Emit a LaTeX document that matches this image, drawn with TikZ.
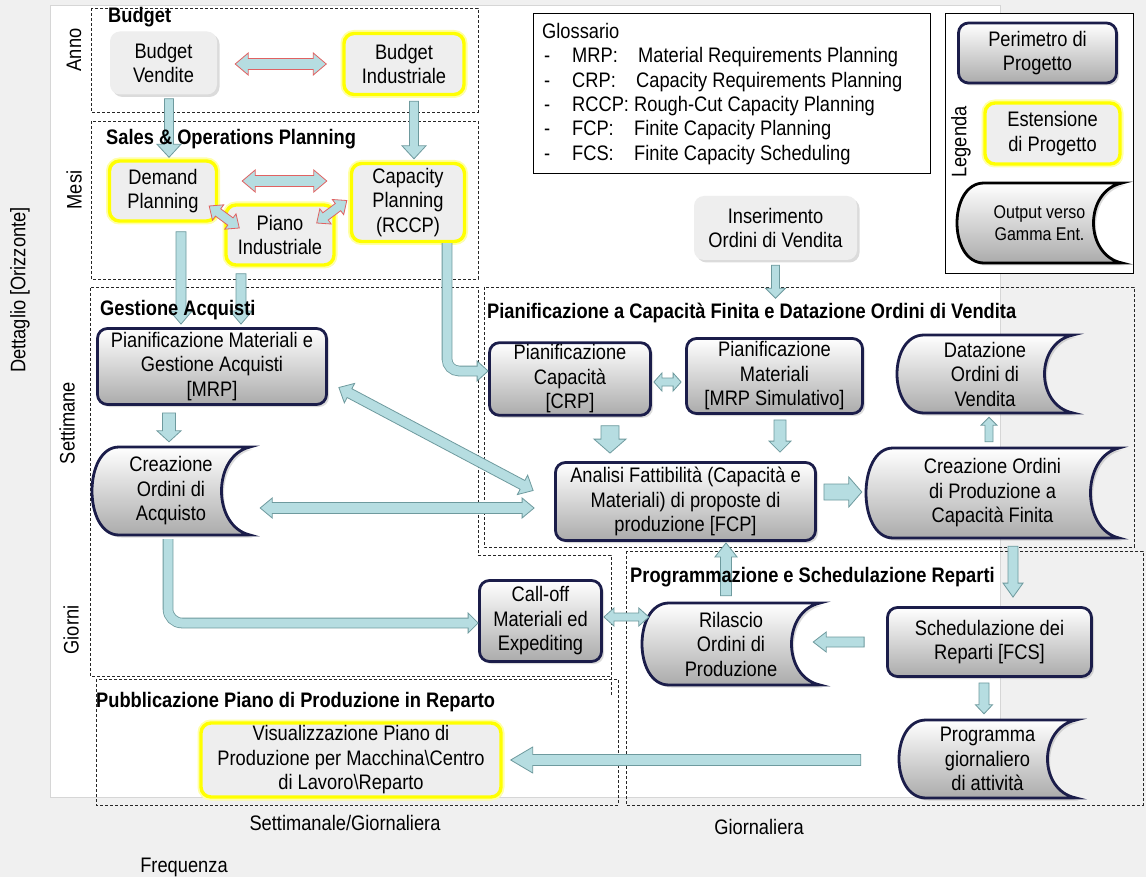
\documentclass[tikz,border=0pt]{standalone}
\usepackage{fontspec}
\setmainfont{Liberation Sans}[FakeStretch=0.87]
\usetikzlibrary{calc,shadows}

\definecolor{bgc}{HTML}{F0F0F0}
\definecolor{framec}{HTML}{D6D6D6}
\definecolor{navy}{HTML}{1B1D4A}
\definecolor{yel}{HTML}{FFFF00}
\definecolor{boxg}{HTML}{EEEEEE}
\definecolor{shadeb}{HTML}{ABABAB}
\definecolor{arrf}{HTML}{B6DDE1}
\definecolor{arro}{HTML}{6E9A9E}
\definecolor{arrr}{HTML}{E06262}

\newcommand\nfont{\fontsize{21}{24.5}\selectfont}
\newcommand\tfont{\fontsize{21}{22}\selectfont\bfseries}
\newcommand\lfont{\fontsize{18.4}{22}\selectfont}

\tikzset{
  boxbase/.style={rounded corners=10pt, align=center, inner sep=2pt},
  sh/.style={drop shadow={opacity=0.28, shadow xshift=2.5pt, shadow yshift=-2.5pt}},
  navybox/.style={boxbase, sh, draw=navy, line width=2.8pt, top color=white, bottom color=shadeb},
  yelbox/.style={boxbase, sh, preaction={draw=yel!35, line width=7pt}, draw=yel, line width=3.4pt, fill=boxg},
  plainbox/.style={boxbase, sh, fill=boxg},
  navyout/.style={sh, draw=navy, line width=2.8pt, top color=white, bottom color=shadeb, line join=miter},
  legout/.style={navyout, draw=black},
  zone/.style={draw=black!85, line width=0.7pt, dash pattern=on 3pt off 2pt},
  zonetitle/.style={font=\tfont, anchor=west, inner sep=0pt},
  plainlabel/.style={inner sep=0pt},
  gloss/.style={anchor=base west, inner sep=0pt},
  blk/.style={fill=arrf, draw=arro, line width=0.8pt, line join=miter},
  blkred/.style={fill=arrf, draw=arrr, line width=0.8pt, line join=miter},
}

% block arrow: [style]{half shaft}{half head}{head length}{tail}{tip}
\newcommand\blockarrow[6][blk]{%
  \path #5 coordinate (bA) #6 coordinate (bB);
  \pgfpointdiff{\pgfpointanchor{bA}{center}}{\pgfpointanchor{bB}{center}}%
  \pgfgetlastxy{\baDx}{\baDy}%
  \pgfmathsetmacro\baLen{veclen(\baDx,\baDy)}%
  \pgfmathsetmacro\baAng{atan2(\baDy,\baDx)}%
  \begin{scope}[shift={(bA)},rotate=\baAng]
    \path[#1] (0,#2) -- ({\baLen-#4},#2) -- ({\baLen-#4},#3) -- (\baLen,0)
      -- ({\baLen-#4},-#3) -- ({\baLen-#4},-#2) -- (0,-#2) -- cycle;
  \end{scope}}

% double-headed block arrow, same arguments
\newcommand\dblarrow[6][blk]{%
  \path #5 coordinate (bA) #6 coordinate (bB);
  \pgfpointdiff{\pgfpointanchor{bA}{center}}{\pgfpointanchor{bB}{center}}%
  \pgfgetlastxy{\baDx}{\baDy}%
  \pgfmathsetmacro\baLen{veclen(\baDx,\baDy)}%
  \pgfmathsetmacro\baAng{atan2(\baDy,\baDx)}%
  \begin{scope}[shift={(bA)},rotate=\baAng]
    \path[#1] (0,0) -- (#4,#3) -- (#4,#2) -- ({\baLen-#4},#2) -- ({\baLen-#4},#3)
      -- (\baLen,0) -- ({\baLen-#4},-#3) -- ({\baLen-#4},-#2) -- (#4,-#2) -- (#4,-#3) -- cycle;
  \end{scope}}

% output box: round left side, hollow right side
% [style]{name}{x1}{y1}{x2}{y2}{text}
\newcommand\outshape[7][navyout]{%
  \path[#1] ({#3+27},#4) -- (#5,#4)
    .. controls ({#5-38},{#4+0.1*(#6-#4)}) and ({#5-38},{#6-0.1*(#6-#4)}) .. (#5,#6)
    -- ({#3+27},#6) .. controls ({#3-9},#6) and ({#3-9},#4) .. ({#3+27},#4) -- cycle;
  \node[minimum width={#5-#3}, minimum height={#6-#4}, inner sep=0pt, align=center]
    (#2) at ({(#3+#5)/2},{(#4+#6)/2}) {#7};}

\begin{document}
\begin{tikzpicture}[x=1pt,y=-1pt,font=\nfont]
\useasboundingbox (0,0) rectangle (1146,877);
\fill[bgc] (0,0) rectangle (1146,877);
\draw[framec, fill=white, line width=0.8pt] (50,5) rectangle (1000,797);

% planning areas
\draw[zone] (91,8) rectangle (478,112);
\draw[zone] (91,121) rectangle (478,279);
\draw[zone] (611,695) -- (611,555) -- (478,555) -- (478,287) -- (90,287) -- (90,676) -- (611,676);
\draw[zone] (484,287) rectangle (1134,547);
\draw[zone] (626,551) rectangle (1143,805);
\draw[zone] (96,679) rectangle (618,805);

% glossary
\draw[fill=white, line width=0.8pt] (533,13) rectangle (930,173);
\node[gloss] (gt) at (542,39) {Glossario};
\foreach \yy/\ab/\df/\xx [count=\i] in {56/MRP:/Material Requirements Planning/638,
    81/CRP:/Capacity Requirements Planning/636,
    105/RCCP:/Rough-Cut Capacity Planning/634,
    129/FCP:/Finite Capacity Planning/634,
    154/FCS:/Finite Capacity Scheduling/634}{
  \node[gloss] (gd\i) at (544,\yy+7) {-};
  \node[gloss] (ga\i) at (572,\yy+7) {\ab};
  \node[gloss] (gx\i) at (\xx,\yy+7) {\df};
}

% legend
\draw[fill=white, line width=0.8pt] (945,13) rectangle (1133,273);
\node[rotate=90, inner sep=0pt] (lgt) at (961,142) {Legenda};
\node[navybox, minimum width=158, minimum height=60] (lg1) at (1037.5,53) {Perimetro di\\Progetto};
\node[yelbox, minimum width=135, minimum height=61] (lg2) at (1052.5,133.5) {Estensione\\di Progetto};
\begin{scope}[font=\lfont]
\outshape[legout]{lg3}{957}{183}{1122}{263}{Output verso\\Gamma Ent.}
\end{scope}

% budget and S&OP
\node[plainbox, minimum width=107, minimum height=63] (bv) at (163.5,63) {Budget\\Vendite};
\node[yelbox, minimum width=120, minimum height=61] (bi) at (404,64) {Budget\\Industriale};
\node[yelbox, minimum width=107, minimum height=60] (dp) at (163,191) {Demand\\Planning};
\node[yelbox, minimum width=113, minimum height=78] (cp) at (408,202.5) {Capacity\\Planning\\(RCCP)};
\node[yelbox, minimum width=108, minimum height=60] (pi) at (280,235) {Piano\\Industriale};

% purchasing
\node[navybox, minimum width=229, minimum height=76] (mrp) at (212,366.5) {Pianificazione Materiali e\\Gestione Acquisti\\{}[MRP]};
\outshape{coa}{92}{447}{250}{535}{Creazione\\Ordini di\\Acquisto}
\node[navybox, minimum width=122, minimum height=81] (cof) at (540.5,621) {Call-off\\Materiali ed\\Expediting};

% finite capacity planning
\node[plainbox, minimum width=163, minimum height=64] (ins) at (775.5,228) {Inserimento\\Ordini di Vendita};
\node[navybox, minimum width=161, minimum height=69] (crp) at (570,379) {Pianificazione\\Capacità\\{}[CRP]};
\node[navybox, minimum width=176, minimum height=75] (mrps) at (774.5,376) {Pianificazione\\Materiali\\{}[MRP Simulativo]};
\outshape{dov}{897}{335}{1073}{413}{Datazione\\Ordini di\\Vendita}
\node[navybox, minimum width=260, minimum height=78] (ana) at (685.5,501.5) {Analisi Fattibilità (Capacità e\\Materiali) di proposte di\\produzione [FCP]};
\outshape{cop}{866}{448}{1119}{538}{Creazione Ordini\\di Produzione a\\Capacità Finita}

% scheduling
\outshape{rop}{642}{603}{820}{685}{Rilascio\\Ordini di\\Produzione}
\node[navybox, minimum width=204, minimum height=69] (sch) at (989.5,642) {Schedulazione dei\\Reparti [FCS]};
\outshape{pga}{899}{720}{1076}{798}{Programma\\giornaliero\\di attività}
\node[yelbox, minimum width=300, minimum height=74] (vis) at (351,760) {Visualizzazione Piano di\\Produzione per Macchina\textbackslash Centro\\di Lavoro\textbackslash Reparto};

% connectors
\dblarrow[blkred]{5.5}{11}{13}{($(bv.east)+(18,1)$)}{($(bi.west)+(-16,0)$)}
\dblarrow[blkred]{5.5}{11}{13}{($(dp.east)+(24,-10)$)}{($(cp.west)+(-23,-21.5)$)}
\dblarrow[blkred]{4.5}{9.5}{11}{($(dp.east)+(-9,15)$)}{($(pi.west)+(15,-7)$)}
\dblarrow[blkred]{4.5}{9.5}{11}{($(pi.east)+(-19,-12)$)}{($(cp.west)+(-3,-2)$)}
\blockarrow{4.5}{12}{13}{($(bv.south)+(5.5,4)$)}{($(dp.north)+(6,-2)$)}
\blockarrow{4.5}{12}{13}{($(bi.south)+(10,5)$)}{($(cp.north)+(6,-3)$)}
\blockarrow{5}{11}{13}{($(dp.south)+(18,9)$)}{($(mrp.north)+(-31,-3)$)}
\blockarrow{5}{11}{13}{($(pi.south)+(-39,7)$)}{($(mrp.north)+(29,-3)$)}

% RCCP to CRP, bent
\coordinate (e1a) at ($(cp.south)+(39,0)$);
\coordinate (e1b) at ($(crp.west)+(0,-8)$);
\draw[line width=10.6pt, draw=arro, rounded corners=12pt] (e1a) |- ($(e1b)+(-10,0)$);
\blockarrow{4.5}{10}{11}{($(e1b)+(-11,0)$)}{(e1b)}
\draw[line width=9pt, draw=arrf, rounded corners=12pt] (e1a) |- ($(e1b)+(-10,0)$);

\blockarrow{6.5}{12}{11}{($(mrp.south)+(-43,7)$)}{($(coa.north)+(-2,-5)$)}
\dblarrow{5}{11}{12}{($(mrp.east)+(11,21)$)}{($(ana.west)+(-21,-11)$)}
\dblarrow{5.5}{10}{12}{($(coa.east)+(10,17)$)}{($(ana.west)+(-20,6.5)$)}

% purchase orders to call-off, bent
\coordinate (e2a) at ($(coa.south)+(-3,4)$);
\coordinate (e2b) at ($(cof.west)+(0,2)$);
\draw[line width=10.6pt, draw=arro, rounded corners=14pt] (e2a) |- ($(e2b)+(-9,0)$);
\blockarrow{4.5}{10}{10}{($(e2b)+(-10,0)$)}{(e2b)}
\draw[line width=9pt, draw=arrf, rounded corners=14pt] (e2a) |- ($(e2b)+(-9,0)$);

\blockarrow{4}{10}{10}{($(ins.south)+(0,5)$)}{($(ins.south)+(0,38)$)}
\dblarrow{4}{9}{8}{($(crp.east)+(2,3)$)}{($(mrps.west)+(-4,6)$)}
\blockarrow{9}{16}{14}{($(crp.south)+(40,9)$)}{($(ana.north)+(-75.5,-8)$)}
\blockarrow{6}{11}{11}{($(mrps.south)+(5.5,5)$)}{($(ana.north)+(94.5,-9)$)}
\blockarrow{8}{15}{13}{($(ana.east)+(7,-9.5)$)}{($(cop.west)+(-4,-1)$)}
\blockarrow{4}{8}{8}{($(cop.north)+(-3.5,-6)$)}{($(dov.south)+(4,4)$)}
\blockarrow{5.5}{11}{14}{($(rop.north)+(-5,-7)$)}{($(ana.south)+(40.5,1)$)}
\blockarrow{5}{10}{14}{($(cop.south)+(20.5,8)$)}{($(sch.north)+(23.5,-9)$)}
\dblarrow{4}{9}{10}{($(cof.east)+(1,-4)$)}{($(rop.west)+(7,-27)$)}
\blockarrow{5}{10}{13}{($(sch.west)+(-22,0)$)}{($(rop.east)+(-7,-2)$)}
\blockarrow{5}{8.5}{9}{($(sch.south)+(-5.5,5)$)}{($(pga.north)+(-3.5,-6)$)}
\blockarrow{5.5}{13}{22}{($(pga.west)+(-38,1)$)}{($(vis.east)+(8,0)$)}

% area titles
\node[zonetitle] (t1) at (108,17) {Budget};
\node[zonetitle] (t2) at (106,139) {Sales \& Operations Planning};
\node[zonetitle] (t3) at (100,310) {Gestione Acquisti};
\node[zonetitle] (t4) at (487,313) {Pianificazione a Capacità Finita e Datazione Ordini di Vendita};
\node[zonetitle] (t5) at (630,577) {Programmazione e Schedulazione Reparti};
\node[zonetitle] (t6) at (96,702) {Pubblicazione Piano di Produzione in Reparto};

% axes
\node[plainlabel, rotate=90] (ya) at (74,50) {Anno};
\node[plainlabel, rotate=90] (ym) at (74,190) {Mesi};
\node[plainlabel, rotate=90] (ys) at (67,423) {Settimane};
\node[plainlabel, rotate=90] (yg) at (71,630) {Giorni};
\node[plainlabel, rotate=90] (yd) at (20,290) {Dettaglio [Orizzonte]};
\node[plainlabel] (xs) at (345,823) {Settimanale/Giornaliera};
\node[plainlabel] (xg) at (759,827) {Giornaliera};
\node[plainlabel] (xf) at (184,867) {Frequenza};
\end{tikzpicture}
\end{document}
